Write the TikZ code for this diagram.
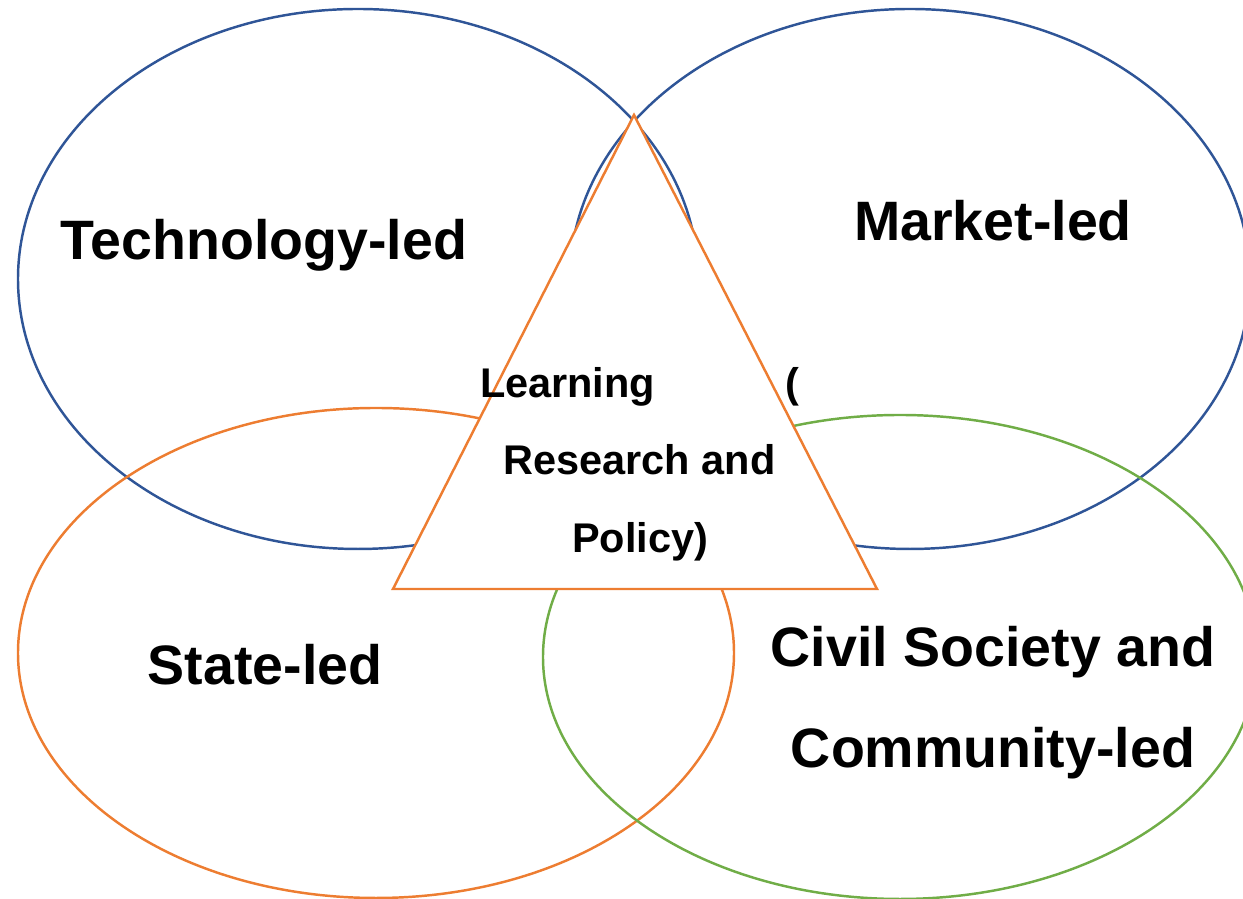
\documentclass[tikz,border=0pt]{standalone}
\usepackage{fontspec}
\setmainfont{Liberation Sans}
\usetikzlibrary{positioning}
\definecolor{techblue}{RGB}{47, 85, 151}
\definecolor{stateorange}{RGB}{237, 125, 49}
\definecolor{civilgreen}{RGB}{112, 173, 71}

\begin{document}
\begin{tikzpicture}[
    ring/.style={line width=0.7pt},
    sector/.style={font=\fontsize{15.8}{18}\selectfont\bfseries, anchor=base},
    core/.style={font=\fontsize{11.8}{14}\selectfont\bfseries, anchor=base}
]
    \useasboundingbox (0,0) rectangle (12.43,-8.99);

    % Centres
    \coordinate (tech) at (3.58,-2.79);
    \coordinate (market) at (9.10,-2.79);
    \coordinate (state) at (3.76,-6.53);
    \coordinate (civil) at (9.00,-6.57);

    % Ellipses
    \draw[ring, techblue] (tech) ellipse [x radius=3.40, y radius=2.70];
    \draw[ring, techblue] (market) ellipse [x radius=3.40, y radius=2.70];
    \draw[ring, stateorange] (state) ellipse [x radius=3.58, y radius=2.45];
    \draw[ring, civilgreen] (civil) ellipse [x radius=3.57, y radius=2.42];

    % Triangle
    \coordinate (apex) at (6.34,-1.15);
    \coordinate (baseleft) at (3.93,-5.89);
    \coordinate (baseright) at (8.77,-5.89);
    \filldraw[ring, draw=stateorange, fill=white] (apex) -- (baseleft) -- (baseright) -- cycle;

    % Labels
    \node[sector] (techlabel) at (2.64,-2.60) {Technology-led};
    \node[sector] (marketlabel) at (9.93,-2.41) {Market-led};
    \node[sector] (statelabel) at (2.65,-6.85) {State-led};
    \node[sector] (civillabel) at (9.93,-6.67) {Civil Society and};
    \node[sector] (communitylabel) at (9.93,-7.68) {Community-led};

    % Triangle text
    \node[core] (learning) at (6.395,-3.98) {Learning\hspace{1.30cm}(};
    \node[core] (research) at (6.395,-4.75) {Research and};
    \node[core] (policy) at (6.40,-5.53) {Policy)};
\end{tikzpicture}
\end{document}
